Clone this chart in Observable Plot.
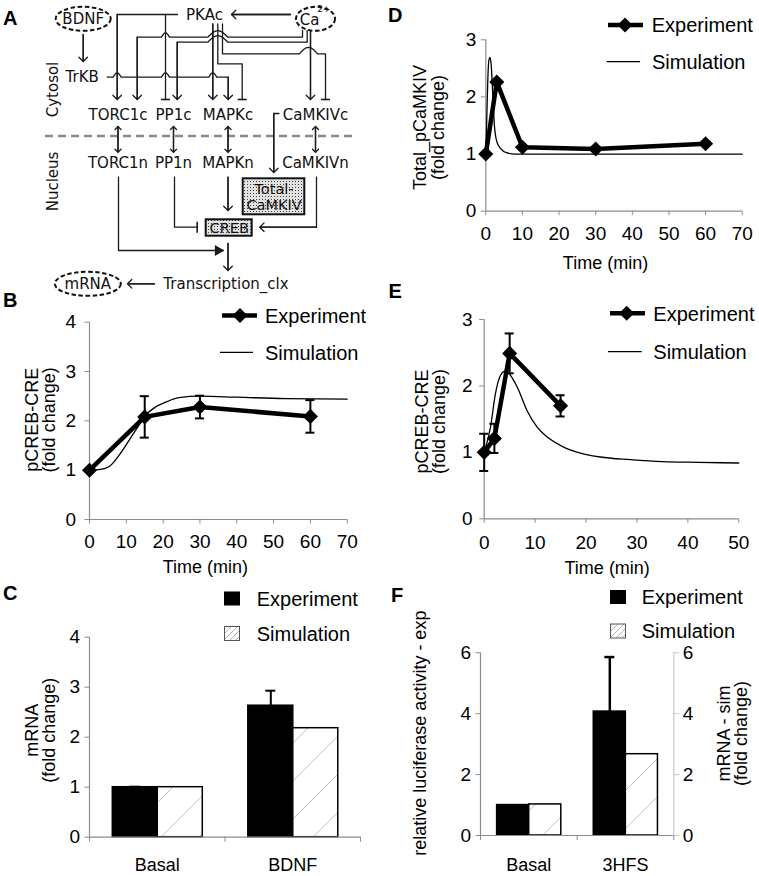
<!DOCTYPE html>
<html><head><meta charset="utf-8">
<script src="https://cdn.jsdelivr.net/npm/d3@7"></script>
<script src="https://cdn.jsdelivr.net/npm/@observablehq/plot@0.6"></script>
<style>
body{margin:0;background:#fff;}
#page{position:relative;width:759px;height:876px;overflow:hidden;background:#fff;}
.panel{position:absolute;}
#overlay{position:absolute;left:0;top:0;pointer-events:none;}
</style></head><body>
<svg width="0" height="0" style="position:absolute">
<defs>
<pattern id="hatchBar" patternUnits="userSpaceOnUse" width="38" height="38">
<rect width="38" height="38" fill="#fff"/>
<path d="M0,38 L38,0 M-2,2 L2,-2 M36,40 L40,36" stroke="#c4c4c4" stroke-width="1"/>
</pattern>
<pattern id="hatchSmall" patternUnits="userSpaceOnUse" width="6" height="6">
<rect width="6" height="6" fill="#fff"/>
<path d="M0,6 L6,0 M-1,1 L1,-1 M5,7 L7,5" stroke="#9a9a9a" stroke-width="0.8"/>
</pattern>
<pattern id="dots" patternUnits="userSpaceOnUse" width="3" height="3">
<rect width="3" height="3" fill="#e2e2e2"/>
<rect x="1" y="1" width="1" height="1" fill="#444"/>
</pattern>
</defs></svg>
<div id="page"></div>
<script>
// ---------------- DATA ----------------
// Panel B: pCREB-CRE after BDNF
const timeB = [0, 15, 30, 60];
const expB = [1.0, 2.08, 2.28, 2.09];
const errB = [0, 0.42, 0.23, 0.33];
const simTimeB = [0, 2.5, 5.3, 8, 10.7, 13.4, 15.2, 17.9, 20.7, 24.3, 30.2, 40, 53.3, 70];
const simB = [1.0, 1.01, 1.07, 1.30, 1.60, 1.91, 2.11, 2.28, 2.38, 2.47, 2.50, 2.48, 2.45, 2.44];

// Panel D: Total_pCaMKIV
const timeD = [0, 3, 10, 30, 60];
const expD = [1.0, 2.26, 1.12, 1.09, 1.18];
const simTimeD = [0, 0.2, 0.5, 0.8, 1.1, 1.45, 1.9, 2.35, 3.0, 4.0, 5.8, 8, 12, 30, 70];
const simD = [1.0, 1.45, 2.2, 2.62, 2.69, 2.58, 2.05, 1.5, 1.22, 1.1, 1.02, 1.0, 1.0, 1.0, 1.0];

// Panel E: pCREB-CRE after 3HFS
const timeE = [0, 2, 5, 15];
const expE = [1.0, 1.21, 2.49, 1.70];
const errE = [0.28, 0.22, 0.30, 0.16];
const simTimeE = [0, 1.24, 2.2, 3.2, 4.0, 4.8, 6.5, 8.4, 10.4, 12.4, 15.6, 18.9, 22.8, 28.7, 35, 42, 50];
const simE = [1.0, 1.38, 1.88, 2.16, 2.22, 2.19, 1.98, 1.63, 1.38, 1.23, 1.08, 0.99, 0.93, 0.89, 0.86, 0.85, 0.84];

// Panel C: mRNA bars
const groupsC = ["Basal", "BDNF"];
const expC = [1.0, 2.63];
const errC = [0.01, 0.30];
const simC = [1.0, 2.18];

// Panel F: luciferase / mRNA bars
const groupsF = ["Basal", "3HFS"];
const expF = [1.0, 4.07];
const errF = [0, 1.79];
const simF = [1.02, 2.67];

// Axis ticks
const ticks70 = [0, 10, 20, 30, 40, 50, 60, 70];
const ticks50 = [0, 10, 20, 30, 40, 50];
const ticks0to4 = [0, 1, 2, 3, 4];
const ticks0to3 = [0, 1, 2, 3];
const ticks0to6 = [0, 2, 4, 6];

// Panel A: diagram content (diagram coordinates)
const nodeLabels = ["PKAc", "TrKB", "TORC1c", "PP1c", "MAPKc", "CaMKIVc", "TORC1n", "PP1n", "MAPKn", "CaMKIVn", "Transcription_clx"];
const nodeX = [204, 81.7, 117.5, 173, 227.5, 315, 117.5, 173, 227.5, 315, 225.5];
const nodeY = [15, 76.5, 115, 115, 115, 115, 163, 163, 163, 163, 283.3];
const ovals = [
  {label: "BDNF", x: 82.7, y: 18.3, rx: 27.5, ry: 12},
  {label: "mRNA", x: 87.3, y: 283.3, rx: 33, ry: 12},
  {label: "", x: 315, y: 18.3, rx: 19.5, ry: 12}
];
const ionLabels = [{label: "Ca", x: 309, y: 20, size: 15}, {label: "2+", x: 323.5, y: 9, size: 9}];
const boxes = [
  {label: "Total-\nCaMKIV", x1: 242.7, x2: 304.3, y1: 178.3, y2: 214.3},
  {label: "CREB", x1: 205.7, x2: 251.7, y1: 219.3, y2: 235.7}
];
const compartments = [{label: "Cytosol", x: 53, y: 89}, {label: "Nucleus", x: 53, y: 181}];
const divider = [{x1: 45, x2: 353, y: 135.5}];
const connectors = [
  {pts: [[177, 14], [116.7, 14], [116.7, 99]], end: "arrow"},
  {pts: [[165, 14], [165, 99]], end: "bar"},
  {pts: [[302, 30], [302, 36.7], [136.7, 36.7], [136.7, 99]], end: "arrow", hops: [[165, 4], [217.3, 10]]},
  {pts: [[306.7, 30], [306.7, 41.7], [176.7, 41.7], [176.7, 99]], end: "arrow", hops: [[217.3, 10]]},
  {pts: [[212.3, 23.5], [212.3, 99]], end: "arrow"},
  {pts: [[217.3, 23.5], [217.3, 63.3], [241.7, 63.3], [241.7, 99]], end: "bar"},
  {pts: [[222, 23.5], [222, 53.3], [325, 53.3], [325, 99]], end: "bar", hops: [[308, 9]]},
  {pts: [[310, 30], [310, 99]], end: "arrow"},
  {pts: [[106.7, 76.7], [227.7, 76.7], [227.7, 99]], end: "arrow", hops: [[116.7, 4], [165, 4], [212.3, 4]]},
  {pts: [[82.7, 34], [82.7, 61]], end: "arrow"},
  {pts: [[290, 14], [231, 14]], end: "arrow"},
  {pts: [[117.5, 126], [117.5, 151.7]], end: "both"},
  {pts: [[173, 126], [173, 151.7]], end: "both"},
  {pts: [[227.5, 126], [227.5, 151.7]], end: "both"},
  {pts: [[315, 126], [315, 151.7]], end: "both"},
  {pts: [[278.5, 113], [273.3, 113], [273.3, 172]], end: "arrow"},
  {pts: [[227.5, 176.7], [227.5, 210]], end: "arrow"},
  {pts: [[174, 176.7], [174, 226.7], [196.7, 226.7]], end: "bar"},
  {pts: [[316, 176.7], [316, 226.7], [259.3, 226.7]], end: "arrow"},
  {pts: [[118, 176.7], [118, 250], [223, 250]], end: "tri"},
  {pts: [[227.5, 243], [227.5, 270]], end: "arrow"},
  {pts: [[154, 283.3], [127, 283.3]], end: "arrow"}
];

// ---------------- STYLE ----------------
const FONT = "Liberation Sans, Arial, Helvetica, sans-serif";
const DFONT = "DejaVu Sans, Verdana, sans-serif";
const AXIS = "#8c8c8c";
const TICK_FS = 19;
const LABEL_FS = 18;
const page = document.getElementById("page");
function place(el, left, top) {
  const d = document.createElement("div");
  d.className = "panel"; d.style.left = left + "px"; d.style.top = top + "px";
  d.append(el); page.append(d);
}
const intFmt = d => String(d);

// ---------------- PANEL A (diagram) ----------------
function expandHops(pts, hops) {
  const out = [pts[0]];
  for (let i = 1; i < pts.length; i++) {
    const [x0, y0] = pts[i - 1], [x1, y1] = pts[i];
    if (y0 === y1 && hops) {
      const dir = Math.sign(x1 - x0);
      const hs = hops.filter(([c]) => (c - x0) * (c - x1) < 0).sort((a, b) => dir * (a[0] - b[0]));
      for (const [c, a] of hs) {
        const h = Math.min(a * 1.1, 6.5);
        for (let k = 0; k <= 12; k++) {
          const t = k / 12;
          out.push([c - dir * a + dir * 2 * a * t, y0 - h * Math.sin(Math.PI * t)]);
        }
      }
    }
    out.push(pts[i]);
  }
  return out;
}
const pathRows = [], arrowRows = [], barRows = [], triRows = [];
connectors.forEach((c, id) => {
  expandHops(c.pts, c.hops).forEach(([x, y]) => pathRows.push({id, x, y}));
  const n = c.pts.length;
  const [ax, ay] = c.pts[n - 2], [bx, by] = c.pts[n - 1];
  if (c.end === "arrow") arrowRows.push({x1: ax, y1: ay, x2: bx, y2: by});
  if (c.end === "both") {
    const mx = (ax + bx) / 2, my = (ay + by) / 2;
    arrowRows.push({x1: mx, y1: my, x2: ax, y2: ay});
    arrowRows.push({x1: mx, y1: my, x2: bx, y2: by});
  }
  if (c.end === "bar") {
    if (ax === bx) barRows.push({x1: bx - 4.5, y1: by, x2: bx + 4.5, y2: by});
    else barRows.push({x1: bx, y1: by - 5.5, x2: bx, y2: by + 5.5});
  }
  if (c.end === "tri") triRows.push({x: bx - 5.5 * Math.sign(bx - ax), y: by});
});
const nodes = nodeLabels.map((label, i) => ({label, x: nodeX[i], y: nodeY[i]}));
function ellipseSymbol(rx, ry) {
  const k = 0.5523;
  return {draw(ctx) {
    ctx.moveTo(rx, 0);
    ctx.bezierCurveTo(rx, k * ry, k * rx, ry, 0, ry);
    ctx.bezierCurveTo(-k * rx, ry, -rx, k * ry, -rx, 0);
    ctx.bezierCurveTo(-rx, -k * ry, -k * rx, -ry, 0, -ry);
    ctx.bezierCurveTo(k * rx, -ry, rx, -k * ry, rx, 0);
    ctx.closePath();
  }};
}
const diagram = Plot.plot({
  width: 380, height: 300, margin: 0,
  x: {domain: [0, 380], range: [0, 380], axis: null},
  y: {domain: [0, 300], range: [0, 300], axis: null},
  style: {fontFamily: DFONT, fontSize: "15px", background: "transparent", overflow: "visible"},
  marks: [
    Plot.ruleY(divider, {y: "y", x1: "x1", x2: "x2", stroke: "#8a8a8a", strokeWidth: 2.5, strokeDasharray: "8,5"}),
    Plot.line(pathRows, {x: "x", y: "y", z: "id", stroke: "#1a1a1a", strokeWidth: 1.3, curve: "linear"}),
    Plot.arrow(arrowRows, {x1: "x1", y1: "y1", x2: "x2", y2: "y2", headLength: 7, headAngle: 90, stroke: "#1a1a1a", strokeWidth: 1.3}),
    Plot.link(barRows, {x1: "x1", y1: "y1", x2: "x2", y2: "y2", stroke: "#1a1a1a", strokeWidth: 1.6}),
    Plot.dot(triRows, {x: "x", y: "y", symbol: "triangle", rotate: 90, r: 4, fill: "#1a1a1a", stroke: "none"}),
    Plot.rect(boxes, {x1: "x1", x2: "x2", y1: "y1", y2: "y2", fill: "url(#dots)", stroke: "#111", strokeWidth: 2}),
    Plot.text(boxes, {x: d => (d.x1 + d.x2) / 2, y: d => (d.y1 + d.y2) / 2, text: "label", fontSize: 14.5, lineHeight: 1.15, fill: "#111"}),
    ...ovals.map(o => Plot.dot([o], {x: "x", y: "y", symbol: ellipseSymbol(o.rx, o.ry), r: 5, fill: "white", stroke: "#111", strokeWidth: 2, strokeDasharray: "4.5,2.5"})),
    Plot.text(ovals, {x: "x", y: "y", text: "label", fill: "#111"}),
    Plot.text(ionLabels, {x: "x", y: "y", text: "label", fontSize: d => d.size, fill: "#111"}),
    Plot.text(nodes, {x: "x", y: "y", text: "label", fill: "#111"}),
    Plot.text(compartments, {x: "x", y: "y", text: "label", rotate: -90, fill: "#111"})
  ]
});
place(diagram, 0, 0);

// ---------------- LINE PANELS ----------------
function linePanel(c) {
  const expRows = c.t.map((t, i) => ({t, v: c.v[i], e: c.e ? c.e[i] : 0}));
  const simRows = c.st.map((t, i) => ({t, v: c.sv[i]}));
  const errRows = expRows.filter(d => d.e > 0);
  const capOpts = {x1: "t", x2: "t", insetLeft: -4.5, insetRight: -4.5, strokeWidth: 2, stroke: "black"};
  const plot = Plot.plot({
    width: c.width, height: c.height,
    marginLeft: c.ml, marginRight: c.mr, marginTop: c.mt, marginBottom: c.mb,
    style: {fontFamily: FONT, fontSize: "17px", background: "transparent", overflow: "visible", color: "black"},
    x: {domain: c.xDomain},
    y: {domain: c.yDomain},
    marks: [
      Plot.ruleY([0], {stroke: AXIS, strokeWidth: 1.2}),
      Plot.ruleX([0], {stroke: AXIS, strokeWidth: 1.2}),
      Plot.axisX({ticks: c.xTicks, tickFormat: intFmt, tickSize: 4.5, tickPadding: c.xPad, stroke: AXIS, fill: "black", fontSize: TICK_FS, label: null}),
      Plot.axisY({ticks: c.yTicks, tickFormat: intFmt, tickSize: 4.5, tickPadding: c.yPad, stroke: AXIS, fill: "black", fontSize: TICK_FS, label: null}),
      Plot.line(simRows, {x: "t", y: "v", stroke: "black", strokeWidth: 1.3, curve: "monotone-x"}),
      Plot.ruleX(errRows, {x: "t", y1: d => d.v - d.e, y2: d => d.v + d.e, strokeWidth: 2, stroke: "black"}),
      Plot.ruleY(errRows, {y: d => d.v + d.e, ...capOpts}),
      Plot.ruleY(errRows, {y: d => d.v - d.e, ...capOpts}),
      Plot.line(expRows, {x: "t", y: "v", stroke: "black", strokeWidth: 4.5, strokeLinejoin: "round"}),
      Plot.dot(expRows, {x: "t", y: "v", symbol: "diamond2", r: 6.8, fill: "black", stroke: "none"}),
      Plot.text([c.ylabel], {text: d => d, frameAnchor: "left", dx: c.ylDx, dy: c.ylDy, rotate: -90, fontSize: LABEL_FS, lineHeight: 0.95, textAnchor: "middle", lineAnchor: "middle", fill: "black"}),
      Plot.text(["Time (min)"], {text: d => d, frameAnchor: "bottom", dx: c.xlDx, dy: c.xlDy, fontSize: LABEL_FS, textAnchor: "middle", lineAnchor: "middle", fill: "black"})
    ]
  });
  place(plot, c.left, c.top);
}

linePanel({left: 0, top: 300, width: 380, height: 280, ml: 89, mr: 33.3, mt: 21.7, mb: 61,
  xDomain: [0, 70], yDomain: [0, 4], xTicks: ticks70, yTicks: ticks0to4, xPad: 10.5, yPad: 9,
  t: timeB, v: expB, e: errB, st: simTimeB, sv: simB,
  ylabel: "pCREB-CRE\n(fold change)", ylDx: -48.5, ylDy: -1, xlDx: -13, xlDy: 48});

linePanel({left: 380, top: 0, width: 379, height: 290, ml: 105.3, mr: 17.3, mt: 39.3, mb: 79.3,
  xDomain: [0, 70], yDomain: [0, 3], xTicks: ticks70, yTicks: ticks0to3, xPad: 11, yPad: 5,
  t: timeD, v: expD, e: null, st: simTimeD, sv: simD,
  ylabel: "Total_pCaMKIV\n(fold change)", ylDx: -56.3, ylDy: 2, xlDx: -8.5, xlDy: 52.5});

linePanel({left: 380, top: 290, width: 379, height: 290, ml: 103.7, mr: 20.7, mt: 29, mb: 61.7,
  xDomain: [0, 50], yDomain: [0, 3], xTicks: ticks50, yTicks: ticks0to3, xPad: 12.5, yPad: 7,
  t: timeE, v: expE, e: errE, st: simTimeE, sv: simE,
  ylabel: "pCREB-CRE\n(fold change)", ylDx: -53.2, ylDy: 2.3, xlDx: -4.3, xlDy: 49});

// ---------------- BAR PANELS ----------------
const BAR_OFF = 0.172, BAR_W = 0.332;
function barPanel(c) {
  const exp = c.groups.map((g, i) => ({g, i, v: c.exp[i], e: c.err[i]}));
  const sim = c.groups.map((g, i) => ({g, i, v: c.sim[i]}));
  const errRows = exp.filter(d => d.e > 0);
  const cx = d => d.i + BAR_OFF + BAR_W / 2;
  const marks = [
    Plot.rectY(exp, {x1: d => d.i + BAR_OFF, x2: d => d.i + BAR_OFF + BAR_W, y: "v", fill: "black", stroke: "black", strokeWidth: 1.5}),
    Plot.rectY(sim, {x1: d => d.i + BAR_OFF + BAR_W, x2: d => d.i + BAR_OFF + 2 * BAR_W, y: "v", fill: "url(#hatchBar)", stroke: "black", strokeWidth: 1.5}),
    Plot.ruleX(errRows, {x: cx, y1: "v", y2: d => d.v + d.e, stroke: "black", strokeWidth: c.errW}),
    Plot.ruleY(errRows, {y: d => d.v + d.e, x1: cx, x2: cx, insetLeft: -5, insetRight: -5, stroke: "black", strokeWidth: c.errW}),
    Plot.ruleY([0], {stroke: AXIS, strokeWidth: 1.2}),
    Plot.ruleX([0], {stroke: AXIS, strokeWidth: 1.2}),
    Plot.axisX({ticks: [0, 1, 2], tickSize: 5, stroke: AXIS, tickFormat: () => "", label: null}),
    Plot.axisX({ticks: c.groups.map((g, i) => i + 0.5), tickSize: 0, tickPadding: c.catPad, tickFormat: d => c.groups[Math.floor(d)], fill: "black", fontSize: LABEL_FS, label: null}),
    Plot.axisY({ticks: c.yTicks, tickFormat: intFmt, tickSize: 4.5, tickPadding: c.yPad, stroke: AXIS, fill: "black", fontSize: TICK_FS, label: null}),
    Plot.text([c.ylabel], {text: d => d, frameAnchor: "left", dx: c.ylDx, dy: c.ylDy, rotate: -90, fontSize: LABEL_FS, lineHeight: 0.95, textAnchor: "middle", lineAnchor: "middle", fill: "black"})
  ];
  if (c.rightLabel) {
    marks.push(
      Plot.ruleX([2], {stroke: "#c8c8c8", strokeWidth: 1.2}),
      Plot.axisY({anchor: "right", ticks: c.yTicks, tickFormat: intFmt, tickSize: 5, tickPadding: 4, stroke: "#c8c8c8", fill: "black", fontSize: TICK_FS, label: null}),
      Plot.text([c.rightLabel], {text: d => d, frameAnchor: "right", dx: c.rlDx, dy: c.rlDy, rotate: -90, fontSize: LABEL_FS, lineHeight: 0.95, textAnchor: "middle", lineAnchor: "middle", fill: "black"})
    );
  }
  const plot = Plot.plot({
    width: c.width, height: c.height,
    marginLeft: c.ml, marginRight: c.mr, marginTop: c.mt, marginBottom: c.mb,
    style: {fontFamily: FONT, fontSize: "17px", background: "transparent", overflow: "visible", color: "black"},
    x: {type: "linear", domain: [0, 2]},
    y: {domain: c.yDomain},
    marks
  });
  place(plot, c.left, c.top);
}

barPanel({left: 0, top: 580, width: 380, height: 296, ml: 89, mr: 20, mt: 56.7, mb: 39.3,
  groups: groupsC, exp: expC, err: errC, sim: simC, yDomain: [0, 4], yTicks: ticks0to4, yPad: 5, catPad: 21, errW: 2,
  ylabel: "mRNA\n(fold change)", ylDx: -48.5, ylDy: -7});

barPanel({left: 380, top: 580, width: 379, height: 296, ml: 100, mr: 85.7, mt: 72.3, mb: 41,
  groups: groupsF, exp: expF, err: errF, sim: simF, yDomain: [0, 6], yTicks: ticks0to6, yPad: 5, catPad: 23, errW: 2.5,
  ylabel: "relative luciferase activity - exp", ylDx: -60, ylDy: -11,
  rightLabel: "mRNA - sim\n(fold change)", rlDx: 59, rlDy: -10.7});

// ---------------- LEGENDS & PANEL LETTERS ----------------
function diamond(cx, cy) { return `<polygon points="${cx},${cy-7.5} ${cx+7.5},${cy} ${cx},${cy+7.5} ${cx-7.5},${cy}" fill="black"/>`; }
function lineLegend(x0, x1, dcx, y1, tx1, xs0, xs1, y2, tx2) {
  return `<line x1="${x0}" x2="${x1}" y1="${y1}" y2="${y1}" stroke="black" stroke-width="4.5"/>${diamond(dcx, y1)}
  <text x="${tx1}" y="${y1 + 7.2}">Experiment</text>
  <line x1="${xs0}" x2="${xs1}" y1="${y2}" y2="${y2}" stroke="black" stroke-width="1.3"/>
  <text x="${tx2}" y="${y2 + 7.2}">Simulation</text>`;
}
function barLegend(x, y1, tx, y2) {
  return `<rect x="${x}" y="${y1 - 7}" width="16" height="14" fill="black"/>
  <text x="${tx}" y="${y1 + 7.2}">Experiment</text>
  <rect x="${x + 0.5}" y="${y2 - 7}" width="15" height="14" fill="url(#hatchSmall)" stroke="#555" stroke-width="1"/>
  <text x="${tx}" y="${y2 + 7.2}">Simulation</text>`;
}
const overlay = `<svg id="overlay" width="759" height="876" xmlns="http://www.w3.org/2000/svg">
<g font-family="${FONT}" font-size="20" fill="black">
${lineLegend(222, 257, 240, 315.5, 265, 220, 253, 352.3, 265)}
${lineLegend(608, 643, 625, 25, 651.7, 606.7, 640, 61.7, 652)}
${lineLegend(610, 645, 626.7, 313.3, 653.3, 608, 641.7, 351.7, 653.3)}
${barLegend(224, 598.5, 256.7, 633.5)}
${barLegend(610, 597, 641.7, 631)}
</g>
<g font-family="${FONT}" font-size="20" font-weight="bold" fill="black">
<text x="3" y="25">A</text><text x="3" y="306.5">B</text><text x="3" y="600">C</text>
<text x="388" y="21.7">D</text><text x="388.5" y="298.3">E</text><text x="391" y="601.5">F</text>
</g></svg>`;
page.insertAdjacentHTML("beforeend", overlay);
</script>
</body></html>
